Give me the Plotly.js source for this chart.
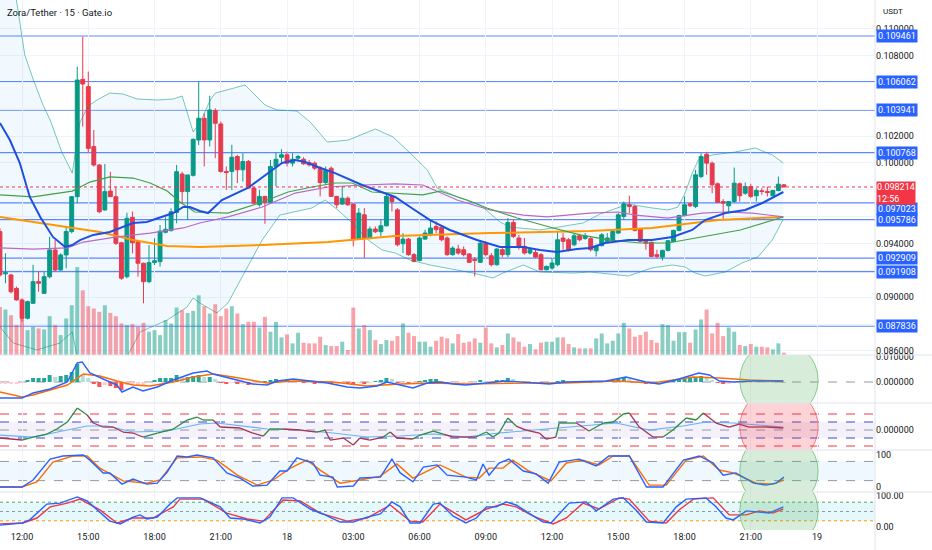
<!DOCTYPE html>
<html><head><meta charset="utf-8">
<script src="https://cdn.plot.ly/plotly-3.0.1.min.js"></script>
<style>html,body{margin:0;padding:0;background:#fff}#chart{width:932px;height:550px}</style>
</head><body><div id="chart"></div>
<script>
// ---------- DATA (15-minute candles, index 0 = 12:00 on the 17th) ----------
const open = [
.09489,.09174,.09166,.09066,.08980,.08843,.08955,.09116,.09029,.09153,
.09352,.09203,.09315,.09489,.09749,.10623,.10569,.10122,.09985,.09650,
.09791,.09749,.09406,.09153,.09595,.09414,.09253,.09116,.09258,.09265,
.09484,.09496,.09632,.09918,.09787,.09908,.10171,.10333,.10172,.10390,
.10291,.09937,.09937,.10048,.09949,.10011,.09813,.09689,.09751,.09706,
.09974,.10043,.10061,.09999,.10036,.10028,.10004,.09999,.09961,.09855,
.09961,.09751,.09694,.09738,.09694,.09433,.09614,.09441,.09508,.09488,
.09532,.09751,.09651,.09398,.09433,.09317,.09274,.09433,.09473,.09527,
.09522,.09441,.09317,.09359,.09354,.09322,.09282,.09260,.09403,.09309,
.09242,.09354,.09317,.09557,.09441,.09379,.09329,.09334,.09317,.09205,
.09217,.09242,.09441,.09428,.09391,.09458,.09438,.09436,.09346,.09384,
.09416,.09423,.09478,.09602,.09689,.09676,.09508,.09416,.09409,.09317,
.09299,.09349,.09416,.09498,.09609,.09696,.09676,.09899,.10065,.09999,
.09845,.09713,.09681,.09713,.09845,.09775,.09825,.09756,.09793,.09788,
.09756,.09795,.09837];
const high = [
.09513,.09327,.09174,.09079,.08992,.08975,.09242,.09191,.09191,.09451,
.09426,.09327,.09526,.09754,.10718,.10941,.10681,.10246,.09992,.09992,
.09935,.09824,.09414,.09630,.09638,.09426,.09258,.09389,.09439,.09538,
.09595,.09662,.09985,.09935,.09911,.10184,.10606,.10371,.10500,.10408,
.10309,.09974,.10135,.10061,.10073,.10023,.09825,.09800,.09756,.10023,
.10078,.10103,.10085,.10073,.10061,.10043,.10023,.10011,.09974,.09974,
.09974,.09756,.09825,.09751,.09701,.09664,.09664,.09527,.09527,.09577,
.09763,.09763,.09664,.09478,.09441,.09329,.09453,.09503,.09577,.09564,
.09532,.09453,.09379,.09391,.09379,.09329,.09299,.09416,.09416,.09329,
.09366,.09366,.09589,.09577,.09465,.09441,.09366,.09354,.09329,.09235,
.09292,.09490,.09478,.09441,.09478,.09473,.09478,.09453,.09391,.09478,
.09478,.09503,.09627,.09713,.09756,.09689,.09515,.09428,.09416,.09354,
.09354,.09421,.09503,.09614,.09751,.09706,.09949,.10073,.10078,.10011,
.09855,.09731,.09713,.09966,.09855,.09855,.09845,.09813,.09813,.09825,
.09800,.09899,.09842];
const low = [
.09153,.09104,.09029,.08975,.08818,.08835,.08950,.09041,.09024,.09141,
.09191,.09198,.09215,.09476,.09700,.10271,.10072,.09973,.09625,.09645,
.09749,.09389,.09129,.09141,.09327,.09153,.08955,.09104,.09240,.09228,
.09476,.09489,.09551,.09700,.09576,.09898,.10134,.09974,.10123,.10036,
.09929,.09800,.09800,.09850,.09862,.09813,.09696,.09676,.09547,.09701,
.09825,.09999,.09974,.09974,.10023,.09986,.09974,.09949,.09751,.09837,
.09751,.09664,.09689,.09681,.09379,.09428,.09292,.09433,.09478,.09453,
.09527,.09639,.09379,.09329,.09309,.09260,.09267,.09428,.09453,.09478,
.09416,.09309,.09309,.09317,.09304,.09255,.09155,.09255,.09304,.09230,
.09235,.09299,.09299,.09441,.09354,.09317,.09317,.09292,.09200,.09200,
.09205,.09230,.09354,.09341,.09379,.09416,.09428,.09341,.09304,.09379,
.09403,.09416,.09473,.09577,.09627,.09490,.09409,.09354,.09299,.09292,
.09274,.09341,.09409,.09490,.09602,.09671,.09664,.09887,.09912,.09775,
.09701,.09577,.09627,.09706,.09713,.09763,.09738,.09713,.09763,.09751,
.09751,.09788,.09821];
const close = [
.09166,.09183,.09041,.08980,.08843,.08967,.09116,.09104,.09153,.09352,
.09203,.09315,.09489,.09749,.10618,.10588,.10109,.09985,.09637,.09787,
.09749,.09402,.09141,.09588,.09406,.09253,.09116,.09258,.09272,.09493,
.09506,.09637,.09935,.09787,.09911,.10176,.10333,.10172,.10395,.10296,
.09937,.09929,.10043,.09949,.10011,.09813,.09701,.09751,.09706,.09974,
.10028,.10061,.09999,.10028,.10048,.09994,.09986,.09961,.09855,.09944,
.09751,.09689,.09738,.09689,.09428,.09627,.09441,.09508,.09488,.09532,
.09751,.09713,.09391,.09433,.09317,.09267,.09441,.09478,.09515,.09503,
.09428,.09317,.09366,.09329,.09317,.09260,.09274,.09403,.09317,.09242,
.09359,.09317,.09557,.09453,.09379,.09329,.09354,.09299,.09205,.09230,
.09255,.09428,.09416,.09354,.09458,.09428,.09458,.09354,.09379,.09465,
.09441,.09490,.09614,.09696,.09676,.09498,.09416,.09403,.09304,.09304,
.09349,.09421,.09498,.09609,.09689,.09681,.09912,.10048,.09999,.09837,
.09706,.09701,.09713,.09850,.09756,.09825,.09751,.09795,.09788,.09780,
.09795,.09842,.098214];
const volume = [
145,137,120,90,165,75,85,80,77,117,
90,60,110,150,265,195,147,140,130,150,
127,117,95,90,93,85,97,70,75,60,
105,95,143,135,127,133,180,147,125,153,
117,140,147,125,93,100,100,83,115,70,
100,53,62,35,67,37,35,35,55,30,
27,27,40,15,143,80,90,75,45,33,
45,43,57,95,67,57,40,40,25,43,
55,50,35,63,37,40,50,37,83,35,
23,30,65,53,40,25,33,17,37,40,
40,53,53,33,23,20,20,20,50,65,
35,43,65,97,80,55,60,70,45,37,
93,90,43,69,69,37,77,107,137,65,
97,57,83,70,30,27,33,25,25,23,
17,35,7];
const macdHist = [
-0.0008,-0.0008,-0.0008,-0.0008,-0.0004,0.0008,0.0016,0.0016,0.0016,0.0028,
0.002,0.0024,0.0028,0.004,0.0072,0.0032,0.0016,-0.0008,-0.002,-0.0012,
-0.0016,-0.0024,-0.0032,-0.0012,-0.0012,-0.0012,-0.0012,-0.0004,0.0008,0.0016,
0.0016,0.0016,0.0028,0.002,0.002,0.0024,0.0028,0.002,0.002,0.0012,
-0.0004,-0.0008,-0.0004,-0.0008,-0.0008,-0.0012,-0.0012,-0.0004,0.0004,0.0008,
0.0012,0.0008,0.0008,0.0004,0.0004,-0.0004,-0.0004,-0.0008,-0.0008,-0.0004,
-0.0008,-0.0008,-0.0004,-0.0008,-0.0012,-0.0004,-0.0008,-0.0004,0.0004,0.0008,
0.0016,0.0012,-0.0004,-0.0004,-0.0008,-0.0008,0.0004,0.0008,0.0012,0.0012,
0.0004,-0.0004,-0.0004,-0.0004,-0.0004,-0.0004,-0.0004,0.0008,0.0004,-0.0004,
0.0008,0.0008,0.0016,0.0012,0.0004,-0.0004,-0.0004,-0.0004,-0.0008,-0.0008,
-0.0004,0.0004,0.0008,0.0004,0.0004,0.0004,0.0004,-0.0004,-0.0004,0.0004,
0.0004,0.0008,0.0012,0.0016,0.0012,0.0004,-0.0004,-0.0008,-0.0008,-0.0008,
-0.0004,0.0004,0.0008,0.0012,0.0012,0.0016,0.002,0.0024,0.0016,0.0008,
-0.0004,-0.0008,-0.0008,-0.0004,-0.0004,-0.0004,-0.0004,-0.0004,-0.0004,-0.0004,
-0.0004,0.0002,-0.0002];

// indicator lines: [candle index, value]
const bbUpper = [[-4.0,0.1202],[-1.8,0.11438],[-0.4,0.11065],[0.5,0.10805],[2.0,0.10626],[3.8,0.10432],[5.1,0.10320],[7.2,0.10082],[9.1,0.09925],[10.5,0.10305],[12.0,0.10425],[13.6,0.10469],[15.9,0.10521],[18.3,0.10514],[20.8,0.10477],[24.5,0.10469],[27.4,0.10477],[29.0,0.10499],[31.0,0.10231],[32.2,0.10298],[34.1,0.10469],[35.0,0.10521],[37.1,0.10544],[40.4,0.10581],[44.0,0.10432],[46.2,0.10395],[49.8,0.10387],[52.2,0.10305],[55.3,0.10156],[59.1,0.10171],[64.0,0.10253],[67.2,0.10194],[70.3,0.10074],[73.4,0.09948],[75.2,0.09814],[78.8,0.09747],[83.0,0.09687],[86.6,0.09560],[88.4,0.09523],[93.8,0.09501],[96.2,0.09516],[101.6,0.09553],[104.7,0.09620],[109.8,0.09694],[114.1,0.09665],[117.0,0.09650],[118.8,0.09672],[120.1,0.09776],[121.4,0.09925],[122.5,0.10022],[125.0,0.10060],[129.2,0.10082],[132.8,0.10112],[135.9,0.10060],[137.9,0.10000]];
const bbLower = [[-4.0,0.08778],[-1.6,0.08659],[2.7,0.08607],[6.9,0.08659],[9.1,0.08741],[10.1,0.08532],[14.1,0.08383],[18.7,0.08532],[21.4,0.08741],[26.3,0.08830],[29.9,0.08927],[31.0,0.08994],[32.2,0.08957],[35.3,0.08882],[37.3,0.08957],[40.9,0.09225],[43.5,0.09426],[46.7,0.09612],[49.5,0.09635],[52.5,0.09665],[54.9,0.09724],[57.2,0.09650],[59.8,0.09553],[62.7,0.09426],[65.2,0.09352],[67.6,0.09329],[70.3,0.09277],[73.9,0.09240],[81.7,0.09180],[85.3,0.09143],[87.1,0.09180],[90.8,0.09240],[93.8,0.09188],[99.8,0.09180],[102.9,0.09188],[108.0,0.09166],[109.8,0.09158],[114.1,0.09218],[117.8,0.09240],[120.1,0.09225],[121.9,0.09180],[123.7,0.09158],[127.4,0.09188],[130.4,0.09255],[133.3,0.09300],[135.9,0.09426],[137.9,0.09583]];
const bbBasis = [[-4.0,0.09762],[2.0,0.09747],[9.1,0.09791],[12.3,0.09858],[15.9,0.09896],[20.1,0.09888],[23.2,0.09851],[26.3,0.09791],[28.6,0.09709],[31.3,0.09635],[37.3,0.09627],[43.5,0.09709],[48.2,0.09784],[52.5,0.09821],[56.7,0.09851],[59.8,0.09851],[63.4,0.09784],[67.6,0.09776],[72.6,0.09762],[75.7,0.09791],[80.6,0.09724],[84.2,0.09665],[89.7,0.09590],[96.2,0.09516],[101.1,0.09464],[106.5,0.09426],[112.0,0.09404],[117.0,0.09404],[122.8,0.09449],[130.1,0.09501],[137.9,0.09598]];
const emaFast = [[-4.0,0.10298],[-2.2,0.10171],[-0.4,0.10000],[1.4,0.09747],[3.3,0.09598],[5.6,0.09449],[7.8,0.09374],[9.1,0.09389],[10.5,0.09426],[12.9,0.09464],[15.9,0.09486],[17.8,0.09516],[20.1,0.09553],[22.6,0.09560],[25.5,0.09598],[27.4,0.09627],[29.2,0.09672],[30.4,0.09672],[32.2,0.09642],[33.7,0.09627],[36.2,0.09724],[40.9,0.09814],[44.6,0.09925],[47.1,0.10000],[49.5,0.10022],[51.3,0.10007],[53.6,0.09970],[56.7,0.09925],[61.6,0.09836],[65.2,0.09784],[67.6,0.09747],[70.3,0.09672],[73.9,0.09575],[77.5,0.09501],[82.4,0.09426],[86.6,0.09374],[90.8,0.09374],[93.8,0.09352],[96.9,0.09337],[100.5,0.09359],[102.9,0.09367],[105.6,0.09404],[109.8,0.09426],[114.1,0.09426],[117.8,0.09449],[121.4,0.09501],[123.7,0.09575],[127.4,0.09627],[131.0,0.09650],[134.1,0.09702],[137.9,0.09784]];
const maPurple = [[-4.0,0.09367],[2.0,0.09359],[8.2,0.09367],[11.1,0.09411],[17.2,0.09449],[23.2,0.09478],[29.2,0.09516],[32.2,0.09553],[37.3,0.09598],[43.5,0.09672],[49.5,0.09776],[55.4,0.09821],[61.6,0.09836],[67.6,0.09844],[72.6,0.09836],[78.8,0.09724],[84.8,0.09650],[90.8,0.09612],[95.1,0.09598],[102.9,0.09627],[108.0,0.09635],[111.1,0.09612],[117.0,0.09590],[123.2,0.09627],[127.4,0.09635],[132.3,0.09627],[137.9,0.09598]];
const maOrange = [[-4.0,0.09598],[2.0,0.09560],[8.2,0.09523],[14.1,0.09486],[20.1,0.09426],[26.3,0.09382],[32.2,0.09374],[43.5,0.09389],[55.4,0.09411],[67.6,0.09456],[84.8,0.09478],[102.9,0.09493],[114.1,0.09516],[120.1,0.09545],[126.1,0.09575],[137.9,0.09598]];
const macdLine = [[-4.0,-0.0064],[0.0,-0.0064],[2.0,-0.0044],[5.1,-0.0028],[8.2,0],[10.0,0.0076],[10.9,0.0080],[12.3,0.0036],[14.7,0.0012],[17.2,-0.0012],[18.1,-0.0040],[20.1,-0.0020],[21.9,-0.0036],[24.5,-0.0020],[27.4,0.0008],[31.0,0.0036],[33.5,0.0044],[34.6,0.0032],[38.2,0.0012],[41.8,-0.0008],[44.4,-0.0012],[46.2,0.0004],[49.1,0.0012],[52.2,0.0004],[55.3,-0.0004],[58.9,-0.0020],[61.2,-0.0024],[64.3,-0.0016],[66.1,0],[68.5,-0.0012],[70.8,-0.0024],[73.4,-0.0004],[75.7,0],[78.1,-0.0008],[80.4,-0.0012],[87.7,0.0004],[95.5,-0.0008],[98.6,0],[105.8,0.0004],[109.4,0.0020],[113.0,0],[115.4,-0.0008],[119.0,0.0012],[122.6,0.0036],[124.5,0.0028],[126.3,0.0004],[128.8,0],[132.4,0.0004],[137.9,0.0004]];
const macdSignal = [[-4.0,-0.0040],[0.0,-0.0060],[2.0,-0.0052],[8.2,-0.0012],[11.1,0.0032],[14.1,0.0024],[17.2,0.0004],[20.1,-0.0012],[23.2,-0.0016],[27.4,0],[31.0,0.0020],[34.6,0.0032],[38.2,0.0020],[44.4,-0.0004],[49.1,0.0004],[56.3,0],[62.5,-0.0016],[68.5,-0.0008],[74.5,-0.0004],[80.4,-0.0008],[92.6,-0.0004],[98.6,-0.0004],[107.6,0.0004],[114.3,-0.0004],[121.6,0.0020],[126.3,0.0016],[131.7,0.0008],[137.9,0.0004]];
const oscLine = [[-4.0,-0.0010],[0.0,-0.00125],[2.0,-0.000875],[4.5,-0.0005],[6.3,0.000125],[8.2,0.001],[10.0,0.00275],[11.8,0.001875],[12.9,0.000875],[14.7,0.000375],[16.5,0.000375],[18.3,-0.00025],[20.1,-0.000375],[21.9,-0.000875],[24.5,-0.000375],[27.4,0.000125],[29.9,0.00125],[31.7,0.001625],[32.8,0.00125],[34.6,0.00125],[35.9,0.000375],[39.5,0.00025],[41.8,-0.000375],[43.7,-0.00075],[44.9,0.000125],[47.3,0.000125],[50.4,0],[53.4,-0.00025],[54.9,0],[55.8,-0.00125],[58.2,-0.001],[60.0,-0.001875],[61.2,-0.001],[63.0,-0.00125],[65.4,-0.000875],[66.7,-0.00025],[67.9,-0.001],[70.8,-0.001125],[72.1,-0.000625],[74.5,-0.000125],[76.3,-0.0005],[78.1,-0.000875],[80.4,-0.000875],[82.2,-0.000875],[84.1,-0.00025],[85.3,-0.000875],[86.4,-0.000375],[88.0,0.0015],[89.5,0.0005],[91.3,0],[93.7,-0.000375],[94.9,-0.001125],[96.7,-0.000875],[97.3,0.000875],[100.4,0.000875],[102.7,-0.000125],[105.3,0.000875],[107.1,0.001],[108.9,0.002],[110.0,0.002125],[111.8,0.000375],[114.3,-0.000875],[116.1,-0.000875],[117.9,0],[120.3,0.0015],[122.1,0.00125],[123.4,0.002125],[125.7,0.000875],[128.1,0.000375],[129.9,0.00075],[131.7,0.000375],[134.8,0.000375],[137.9,0.00025]];
const oscState = ['dn','dn','up','up','up','up','up','up','dn','dn','dn','dn','dn','dn','up','up','up','up','up','up','dn','dn','dn','dn','up','up','dn','dn','up','dn','dn','dn','dn','dn','dn','up','dn','dn','up','up','up','dn','dn','dn','up','up','up','up','up','dn','dn','dn','dn','up','up','dn','up','up','up','up','dn','dn','dn','up','up','up','up','dn','dn','dn','dn','dn','dn'];
const oscSignal = [[-4.0,-0.000625],[2.0,-0.000875],[8.2,0],[11.8,0.0005],[15.4,0.0005],[20.1,-0.00025],[26.3,-0.000125],[32.2,0.00075],[35.3,0.000875],[44.4,0.000125],[50.4,0],[56.3,-0.000375],[62.5,-0.000875],[68.5,-0.00075],[74.5,-0.0005],[80.4,-0.000875],[86.4,-0.000375],[92.6,0],[98.6,0.000375],[107.6,0.000875],[113.6,0],[119.7,0.0005],[123.9,0.001],[128.8,0.000875],[137.9,0.000375]];
const stochRsiK = [[-4,0],[0,0],[2.0,22],[3.8,59],[5.1,87],[7.4,97],[11.1,100],[12.3,84],[14.7,44],[15.9,44],[18.1,9],[20.1,25],[22.6,9],[24.5,12],[26.3,47],[28.1,97],[29.9,94],[31.7,100],[34.6,91],[37.1,44],[39.5,28],[41.8,3],[44.4,6],[46.7,50],[48.0,50],[49.8,91],[52.7,75],[54.0,37],[56.3,31],[57.1,0],[60.0,3],[61.2,28],[64.9,31],[67.0,87],[68.5,44],[70.8,16],[72.7,62],[75.2,69],[77.0,37],[80.4,31],[82.3,22],[83.5,72],[84.6,37],[86.4,75],[88.2,87],[90.8,50],[93.1,41],[95.3,12],[97.3,78],[100.9,87],[104.0,66],[106.3,97],[110.0,97],[113.1,0],[116.1,0],[119.8,84],[122.7,97],[125.2,75],[127.0,37],[129.3,44],[132.5,12],[134.8,6],[136.6,12],[138.0,31]];
const stochRsiD = [[-4,0],[0,0],[2.7,16],[5.6,78],[9.2,97],[11.8,97],[14.1,59],[18.3,19],[22.6,12],[25.0,22],[28.1,91],[32.3,94],[35.3,84],[39.0,37],[42.6,6],[45.5,22],[48.6,59],[51.6,84],[54.0,53],[57.6,12],[61.2,22],[64.9,34],[67.9,72],[70.8,28],[73.4,50],[75.7,69],[80.4,31],[82.8,28],[84.6,59],[87.1,59],[88.9,84],[91.8,50],[95.8,19],[98.6,75],[101.6,84],[104.5,69],[107.1,97],[110.0,97],[113.6,6],[116.7,6],[120.3,84],[123.4,97],[126.3,53],[128.8,44],[133.0,12],[136.0,9],[138.0,22]];
const stochK = [[-4,6],[0,13],[1.4,23],[4.5,74],[6.9,77],[10.0,97],[11.8,84],[13.6,55],[15.9,19],[17.8,10],[20.1,32],[21.4,39],[22.6,26],[24.5,32],[26.8,74],[28.1,94],[32.3,94],[35.9,65],[37.7,29],[40.0,26],[43.1,13],[44.9,32],[47.1,94],[49.1,94],[52.2,58],[54.5,42],[57.6,16],[60.0,16],[62.5,32],[64.9,42],[67.0,81],[68.5,65],[70.3,13],[72.1,13],[74.5,74],[75.7,77],[78.1,35],[80.4,13],[82.3,29],[84.1,65],[85.9,65],[87.7,81],[89.5,71],[91.8,45],[94.4,16],[95.8,13],[98.0,55],[99.1,77],[102.2,81],[104.0,52],[107.1,90],[108.9,94],[111.2,55],[113.1,16],[116.1,13],[118.5,65],[120.3,90],[123.9,94],[125.7,65],[127.5,29],[128.8,23],[131.2,52],[133.5,48],[135.3,45],[137.9,65]];
const stochD = [[-4,10],[0.2,13],[2.7,29],[5.1,65],[8.2,77],[10.5,90],[14.1,55],[17.2,13],[20.1,29],[23.7,29],[27.4,65],[28.6,90],[32.8,90],[37.1,45],[40.8,26],[43.7,19],[47.3,87],[50.4,84],[54.0,45],[58.9,19],[62.5,29],[66.7,71],[70.3,19],[72.6,16],[75.7,74],[80.4,23],[84.1,58],[87.1,74],[89.5,65],[92.6,35],[96.2,10],[98.6,29],[101.6,77],[104.5,58],[108.2,94],[110.0,90],[113.6,19],[116.7,13],[119.0,55],[121.6,90],[125.2,94],[128.1,39],[131.2,39],[133.5,52],[136.0,45],[137.9,58]];

const levels = [0.109461,0.106062,0.103941,0.100768,0.097023,0.095786,0.092909,0.091908,0.087836];
const lastPrice = 0.098214;
const countdown = '12:56';
const priceTicks = [0.086,0.088,0.090,0.092,0.094,0.096,0.098,0.100,0.102,0.104,0.106,0.108,0.110];
const priceTickText = ['0.086000','','0.090000','','0.094000','','','0.100000','0.102000','','','0.108000','0.110000'];
const timeTickIndex = [0,12,24,36,48,60,72,84,96,108,120,132,144];
const timeTickText = ['12:00','15:00','18:00','21:00','18','03:00','06:00','09:00','12:00','15:00','18:00','21:00','19'];
const title = 'Zora/Tether · 15 · Gate.io';

// ---------- BUILD ----------
const candleIndex = open.map((_, k) => k - 4);
const xs = a => a.map(p => p[0]);
const ys = a => a.map(p => p[1]);
const UP = '#089981', DN = '#f23645';
const FONT = 'Roboto, "Liberation Sans", sans-serif';

function line(arr, yaxis, color, width, extra) {
  return Object.assign({type:'scatter', mode:'lines', x:xs(arr), y:ys(arr), xaxis:'x', yaxis:yaxis,
    line:{color:color, width:width}, hoverinfo:'skip'}, extra || {});
}

const volColors = close.map((c, k) => c >= open[k] ? 'rgba(8,153,129,0.48)' : 'rgba(242,54,69,0.45)');
const histColors = macdHist.map((v, k) => {
  const p = k > 0 ? macdHist[k-1] : v;
  if (v >= 0) return v >= p ? '#26a69a' : '#b2dfdb';
  return v < p ? '#ff5252' : '#ffcdd2';
});

const oscUpX = [], oscUpY = [], oscDnX = [], oscDnY = [];
for (let k = 1; k < oscLine.length; k++) {
  const a = oscLine[k-1], b = oscLine[k];
  if (oscState[k] === 'up') { oscUpX.push(a[0], b[0], null); oscUpY.push(a[1], b[1], null); }
  else { oscDnX.push(a[0], b[0], null); oscDnY.push(a[1], b[1], null); }
}

const traces = [
  line(bbUpper, 'y', 'rgba(8,153,129,0.55)', 1),
  line(bbLower, 'y', 'rgba(8,153,129,0.55)', 1, {fill:'tonexty', fillcolor:'rgba(33,150,243,0.06)'}),
  line(maOrange, 'y', '#ff9800', 2),
  line(maPurple, 'y', '#ba68c8', 1.2),
  line(bbBasis, 'y', '#43a047', 1.2),
  line(emaFast, 'y', '#1e4fe0', 2),
  {type:'candlestick', x:candleIndex, open:open, high:high, low:low, close:close, xaxis:'x', yaxis:'y',
   increasing:{line:{color:UP, width:1}, fillcolor:UP}, decreasing:{line:{color:DN, width:1}, fillcolor:DN},
   whiskerwidth:0, hoverinfo:'skip'},
  {type:'bar', x:candleIndex, y:volume, xaxis:'x', yaxis:'y6', marker:{color:volColors, line:{width:0}}, width:0.72, hoverinfo:'skip'},
  {type:'bar', x:candleIndex, y:macdHist, xaxis:'x', yaxis:'y2', marker:{color:histColors, line:{width:0}}, width:0.72, hoverinfo:'skip'},
  line(macdSignal, 'y2', '#ff6d00', 1.4),
  line(macdLine, 'y2', '#2962ff', 1.4),
  line(oscSignal, 'y3', '#64b5f6', 1.2),
  {type:'scatter', mode:'lines', x:oscUpX, y:oscUpY, xaxis:'x', yaxis:'y3', line:{color:'#2e8b3e', width:1.3}, hoverinfo:'skip', connectgaps:false},
  {type:'scatter', mode:'lines', x:oscDnX, y:oscDnY, xaxis:'x', yaxis:'y3', line:{color:'#a8324f', width:1.3}, hoverinfo:'skip', connectgaps:false},
  line(stochRsiD, 'y4', '#ff6d00', 1.4),
  line(stochRsiK, 'y4', '#2962ff', 1.4),
  line(stochD, 'y5', '#f23645', 1.4),
  line(stochK, 'y5', '#2962ff', 1.4)
];

const shapes = [];
levels.forEach(L => shapes.push({type:'line', xref:'paper', x0:0, x1:1, yref:'y', y0:L, y1:L,
  line:{color:'rgba(41,98,255,0.75)', width:1.2}, layer:'below'}));
shapes.push({type:'line', xref:'paper', x0:0, x1:1, yref:'y', y0:lastPrice, y1:lastPrice,
  line:{color:DN, width:1, dash:'dot'}, layer:'above'});
shapes.push({type:'line', xref:'paper', x0:0, x1:1, yref:'y2', y0:0, y1:0, line:{color:'#9598a1', width:1, dash:'dash'}, layer:'below'});
shapes.push({type:'rect', xref:'paper', x0:0, x1:1, yref:'y3', y0:-0.001, y1:0.001, fillcolor:'rgba(103,58,183,0.07)', line:{width:0}, layer:'below'});
[[0.002,'#f23645'],[-0.002,'#f23645'],[0.001,'#3f48cc'],[-0.001,'#3f48cc'],[0,'#9598a1']].forEach(d =>
  shapes.push({type:'line', xref:'paper', x0:0, x1:1, yref:'y3', y0:d[0], y1:d[0], line:{color:d[1], width:1, dash:'dash'}, layer:'below'}));
shapes.push({type:'rect', xref:'paper', x0:0, x1:1, yref:'y4', y0:20, y1:80, fillcolor:'rgba(33,150,243,0.07)', line:{width:0}, layer:'below'});
[80,20].forEach(v => shapes.push({type:'line', xref:'paper', x0:0, x1:1, yref:'y4', y0:v, y1:v, line:{color:'#9598a1', width:1, dash:'dash'}, layer:'below'}));
shapes.push({type:'rect', xref:'paper', x0:0, x1:1, yref:'y5', y0:20, y1:80, fillcolor:'rgba(0,188,212,0.10)', line:{width:0}, layer:'below'});
[[80,'#4caf50'],[50,'#9598a1'],[20,'#ff9800']].forEach(d =>
  shapes.push({type:'line', xref:'paper', x0:0, x1:1, yref:'y5', y0:d[0], y1:d[0], line:{color:d[1], width:1, dash:'dot'}, layer:'below'}));
[['y2',-0.0148,0.0164,'76,175,80'],['y3',-0.0045,0.00525,'242,54,69'],['y4',-72,172,'76,175,80'],['y5',-74,178,'76,175,80']].forEach(c =>
  shapes.push({type:'circle', xref:'x', x0:130.0, x1:144.2, yref:c[0], y0:c[1], y1:c[2],
    fillcolor:'rgba(' + c[3] + ',0.22)', line:{color:'rgba(' + c[3] + ',0.6)', width:1}, layer:'above'}));
[0.3302,0.2396,0.1509,0.0717].forEach(p => shapes.push({type:'line', xref:'paper', x0:0, x1:1.066, yref:'paper', y0:p, y1:p, line:{color:'#e0e3eb', width:1}}));
shapes.push({type:'line', xref:'paper', x0:1, x1:1, yref:'paper', y0:-0.04, y1:1, line:{color:'#e0e3eb', width:1}});

const annotations = [
  {xref:'paper', yref:'paper', x:0.006, y:0.977, xanchor:'left', yanchor:'middle', showarrow:false, text:title,
   font:{family:FONT, size:9.5, color:'#131722'}},
  {xref:'paper', yref:'paper', x:1.007, y:0.978, xanchor:'left', yanchor:'middle', showarrow:false, text:'USDT',
   font:{family:FONT, size:8, color:'#131722'}}
];
levels.forEach(L => annotations.push({xref:'paper', yref:'y', x:1, y:L, xanchor:'left', yanchor:'middle', xshift:1,
  yshift: L === 0.097023 ? -6 : 0,
  showarrow:false, text:L.toFixed(6), bgcolor:'#2962ff', borderpad:1, font:{family:FONT, size:9, color:'#ffffff'}}));
annotations.push({xref:'paper', yref:'y', x:1, y:lastPrice, xanchor:'left', yanchor:'top', xshift:1, yshift:6,
  showarrow:false, text:lastPrice.toFixed(6) + '<br>' + countdown, align:'left', bgcolor:DN, borderpad:0,
  font:{family:FONT, size:9, color:'#ffffff'}});

const axisFont = {family:FONT, size:9, color:'#131722'};
const yBase = {side:'right', zeroline:false, showline:false, ticks:'', fixedrange:true, tickfont:axisFont, showgrid:false};
const layout = {
  width:932, height:550,
  margin:{l:0, r:57, t:0, b:20, pad:0},
  paper_bgcolor:'#ffffff', plot_bgcolor:'#ffffff',
  showlegend:false, hovermode:false, dragmode:false,
  font:{family:FONT, size:9, color:'#131722'},
  bargap:0.3, boxgap:0.2, boxgroupgap:0.12,
  xaxis:{range:[-3.99,154.5], anchor:'y5', tickmode:'array', tickvals:timeTickIndex, ticktext:timeTickText,
    showgrid:true, gridcolor:'#f0f3fa', zeroline:false, showline:false, ticks:'', tickfont:axisFont,
    rangeslider:{visible:false}, fixedrange:true},
  yaxis:Object.assign({}, yBase, {domain:[0.3302,1], range:[0.085696,0.112143], tickmode:'array',
    tickvals:priceTicks, ticktext:priceTickText, showgrid:true, gridcolor:'#f0f3fa'}),
  yaxis2:Object.assign({}, yBase, {domain:[0.2396,0.3302], range:[-0.0084,0.0108], tickmode:'array', tickvals:[0,0.01], ticktext:['0.000000','0.010000']}),
  yaxis3:Object.assign({}, yBase, {domain:[0.1509,0.2396], range:[-0.0025,0.003375], tickmode:'array', tickvals:[0], ticktext:['0.000000']}),
  yaxis4:Object.assign({}, yBase, {domain:[0.0717,0.1509], range:[-15.6,115.6], tickmode:'array', tickvals:[0,100], ticktext:['0','100']}),
  yaxis5:Object.assign({}, yBase, {domain:[0,0.0717], range:[-9.7,112.9], tickmode:'array', tickvals:[0,100], ticktext:['0.00','100.00']}),
  yaxis6:{overlaying:'y', range:[0,1070], visible:false, fixedrange:true},
  shapes:shapes,
  annotations:annotations
};

Plotly.newPlot('chart', traces, layout, {staticPlot:true, displayModeBar:false});
</script>
</body></html>
